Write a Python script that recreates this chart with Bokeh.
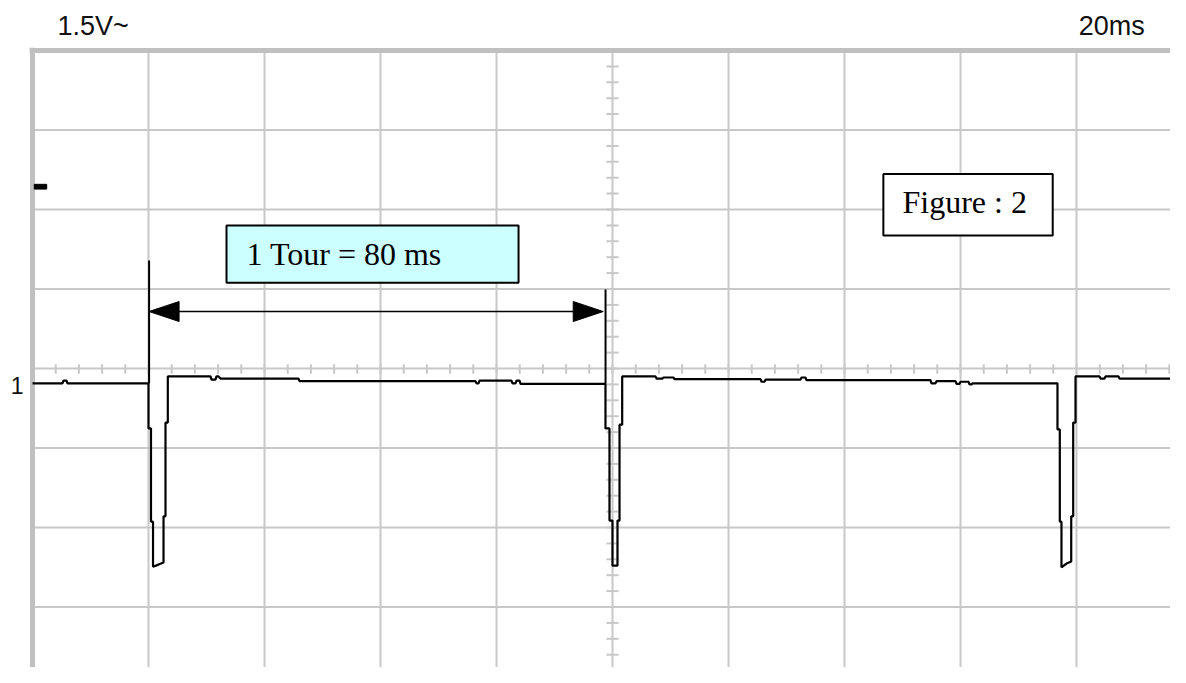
import numpy as np
from bokeh.plotting import figure
from bokeh.models import Range1d
from bokeh.core.properties import value
from bokeh.embed import file_html
from bokeh.resources import INLINE

# ---- scope settings (20 ms/div, 1.5 V/div) ----
MS_PER_DIV = 20.0
V_PER_DIV = 1.5
N_HDIV = 10
N_VDIV = 8

# ---- captured trace: time (ms) and voltage (V, relative to screen centre) ----
trace_t = [0, 5.17, 5.34, 5.86, 6.03, 20.0, 20.0, 20.43, 20.43, 20.78, 20.78, 21.72, 22.59, 22.59,
           22.93, 22.93, 23.33, 23.33, 30.69, 30.86, 31.55, 31.72, 32.07, 32.41, 45.86, 46.03,
           76.38, 76.55, 76.90, 77.07, 82.59, 82.76, 83.28, 83.45, 83.97, 84.14, 98.79,
           98.79, 99.48, 99.48, 100.0, 100.0, 100.86, 100.86, 101.21, 101.21, 101.67, 101.67,
           107.41, 107.59, 108.62, 108.79, 110.52, 110.69, 125.52, 125.69, 126.21, 126.38,
           132.41, 132.59, 133.28, 133.45, 154.83, 155.0, 155.69, 155.86, 159.14, 159.31,
           159.83, 160.0, 161.38, 161.55, 161.90, 162.07, 176.72,
           176.72, 177.12, 177.12, 177.41, 177.41, 178.28, 179.09, 179.09, 179.43, 179.43,
           179.83, 179.83, 183.97, 184.14, 184.83, 185.0, 187.24, 187.41, 199.0]
trace_v = [-0.28, -0.28, -0.23, -0.23, -0.28, -0.28, -1.13, -1.13, -2.89, -2.89, -3.74, -3.70, -3.66, -2.79,
           -2.79, -1.02, -1.02, -0.15, -0.15, -0.21, -0.21, -0.15, -0.15, -0.19, -0.19, -0.24,
           -0.24, -0.28, -0.28, -0.23, -0.23, -0.28, -0.28, -0.23, -0.23, -0.29, -0.29,
           -1.13, -1.13, -2.87, -2.87, -3.72, -3.72, -2.87, -2.87, -1.06, -1.06, -0.15,
           -0.15, -0.19, -0.19, -0.17, -0.17, -0.20, -0.20, -0.25, -0.25, -0.21,
           -0.21, -0.17, -0.17, -0.22, -0.22, -0.28, -0.28, -0.24, -0.24, -0.29,
           -0.29, -0.25, -0.25, -0.30, -0.30, -0.28, -0.28,
           -1.15, -1.15, -2.89, -2.89, -3.75, -3.68, -3.64, -2.79, -2.79, -1.02,
           -1.02, -0.15, -0.15, -0.19, -0.19, -0.15, -0.15, -0.19, -0.19]

# ---- annotation values ----
period_start_ms = 20.1
period_end_ms = 98.8
period_label = "1 Tour = 80 ms"
figure_label = "Figure : 2"
volt_label = "1.5V~"
time_label = "20ms"
ch_label = "1"
ch_ref_v = -0.28
trig_level_v = 3.43

# ---- pixel scale of the screenshot ----
PX_PER_MS = 5.8
PX_PER_V = 53.0
W, H = 1170, 667
LEFT_PX, TOP_PX = 32, 50  # graticule origin inside figure

x0 = -LEFT_PX / PX_PER_MS
x1 = (W - LEFT_PX) / PX_PER_MS
ytop = N_VDIV / 2 * V_PER_DIV
y1 = ytop + TOP_PX / PX_PER_V
y0 = y1 - H / PX_PER_V

p = figure(width=W, height=H, x_range=Range1d(x0, x1), y_range=Range1d(y0, y1),
           output_backend="svg", toolbar_location=None,
           x_axis_location=None, y_axis_location=None, min_border=0)
p.outline_line_color = None
p.grid.visible = False
p.background_fill_color = "white"
p.border_fill_color = "white"

GRID = "#c8c8c8"
xmax = N_HDIV * MS_PER_DIV
ybot = -N_VDIV / 2 * V_PER_DIV


def bl(v, size_px):
    # compensate text placement so the baseline lands on v
    return v + 0.4 * size_px / PX_PER_V


# graticule lines
gx = np.arange(1, N_HDIV + 1) * MS_PER_DIV
p.segment(x0=gx, y0=[ytop] * len(gx), x1=gx, y1=[ybot - 1] * len(gx), line_color=GRID, line_width=2)
gy = ytop - np.arange(1, N_VDIV + 1) * V_PER_DIV
p.segment(x0=[0] * len(gy), y0=gy, x1=[xmax + 5] * len(gy), y1=gy, line_color=GRID, line_width=2)

# minor ticks on centre axes
tx = np.arange(0, xmax + 0.1, MS_PER_DIV / 5)
p.segment(x0=tx, y0=[-0.1] * len(tx), x1=tx, y1=[0.08] * len(tx), line_color=GRID, line_width=2)
ty = np.arange(ybot - V_PER_DIV, ytop + 0.01, V_PER_DIV / 5)
xc = xmax / 2
p.segment(x0=[xc - 1.05] * len(ty), y0=ty, x1=[xc + 1.05] * len(ty), y1=ty, line_color=GRID, line_width=2)

# outer border (left and top)
p.segment(x0=[0, -0.5], y0=[ytop + 0.05, ytop], x1=[0, xmax + 5], y1=[ybot - 1, ytop],
          line_color="#c0c0c0", line_width=5)

# trigger level marker
p.quad(left=[0.3], right=[2.45], bottom=[trig_level_v - 0.045], top=[trig_level_v + 0.045],
       fill_color="black", line_color="black")

# label boxes
p.quad(left=[33.45], right=[83.8], bottom=[1.62], top=[2.70],
       fill_color="#ccffff", line_color="black", line_width=2)
p.quad(left=[146.7], right=[175.9], bottom=[2.51], top=[3.67],
       fill_color="white", line_color="black", line_width=2)
p.text(x=[36.9], y=[bl(1.92, 32)], text=[period_label], text_font=value("Liberation Serif"),
       text_font_size="32px", text_baseline="alphabetic", text_color="black")
p.text(x=[150.0], y=[bl(2.90, 32)], text=[figure_label], text_font=value("Liberation Serif"),
       text_font_size="32px", text_baseline="alphabetic", text_color="black")

# scope texts
p.text(x=[4.3], y=[bl(6.25, 27)], text=[volt_label], text_font=value("Liberation Sans"),
       text_font_size="27px", text_baseline="alphabetic", text_color="#111111")
p.text(x=[180.4], y=[bl(6.25, 27)], text=[time_label], text_font=value("Liberation Sans"),
       text_font_size="27px", text_baseline="alphabetic", text_color="#111111")
p.text(x=[-3.75], y=[bl(ch_ref_v - 0.22, 23)], text=[ch_label], text_font=value("Liberation Sans"),
       text_font_size="23px", text_baseline="alphabetic", text_color="#111111")

# trace
p.line(trace_t, trace_v, line_color="black", line_width=2.2)

# period marker lines and double arrow
p.segment(x0=[period_start_ms, period_end_ms], y0=[2.04, 1.49],
          x1=[period_start_ms, period_end_ms], y1=[-0.28, -0.28], line_color="black", line_width=2)
ya = 1.075
p.segment(x0=[period_start_ms + 2], y0=[ya], x1=[period_end_ms - 2], y1=[ya], line_color="black", line_width=1.5)
hl = 30 / PX_PER_MS
hw = 10 / PX_PER_V
p.patches(xs=[[period_start_ms, period_start_ms + hl, period_start_ms + hl],
              [period_end_ms - 0.4, period_end_ms - 0.4 - hl, period_end_ms - 0.4 - hl]],
          ys=[[ya, ya + hw, ya - hw], [ya, ya + hw, ya - hw]],
          fill_color="black", line_color="black")

open("out.html", "w").write(file_html(p, INLINE))
